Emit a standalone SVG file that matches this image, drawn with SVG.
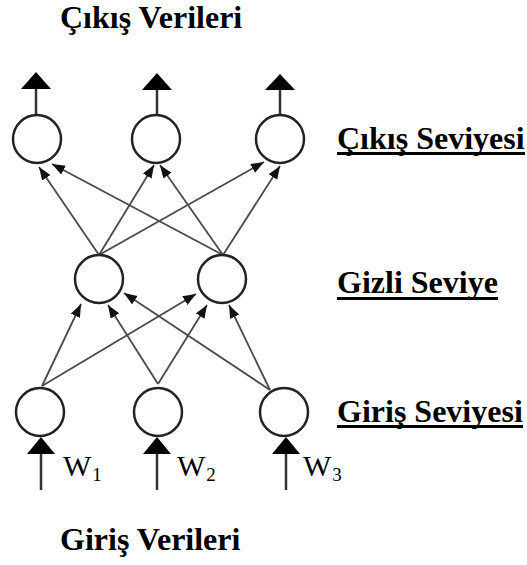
<svg xmlns="http://www.w3.org/2000/svg" width="527" height="565" viewBox="0 0 527 565">
  <defs>
    <marker id="head" markerUnits="userSpaceOnUse" markerWidth="14" markerHeight="11" refX="13" refY="5" orient="auto">
      <path d="M0,0 L13,5 L0,10 Z" fill="#111"/>
    </marker>
  </defs>
  <style>
    .node { fill: #fff; stroke: #222; stroke-width: 2.5; }
    .edge { stroke: #4a4a4a; stroke-width: 1.8; fill: none; marker-end: url(#head); }
    .io { stroke: #333; stroke-width: 2.5; fill: none; }
    .tri { fill: #000; }
    .ul { fill: #000; }
    .serif { font-family: "Liberation Serif", serif; }
  </style>
  <rect width="527" height="565" fill="#fff"/>

  <g class="serif" fill="#000">
    <!-- headings -->
    <g font-weight="bold" font-size="32">
      <text x="60" y="28">Çıkış Verileri</text>
      <text x="60" y="550">Giriş Verileri</text>

      <!-- layer labels -->
      <g id="label-output">
        <text x="337" y="149">Çıkış Seviyesi</text>
        <rect class="ul" x="337" y="152" width="188" height="3"/>
      </g>
      <g id="label-hidden">
        <text x="337" y="293">Gizli Seviye</text>
        <rect class="ul" x="337" y="297" width="161" height="3"/>
      </g>
      <g id="label-input">
        <text x="337" y="422">Giriş Seviyesi</text>
        <rect class="ul" x="337" y="425" width="186" height="3"/>
      </g>
    </g>

    <!-- input weights -->
    <g id="weights" font-size="30">
      <text x="63" y="476">W<tspan font-size="19" dx="1" dy="5">1</tspan></text>
      <text x="177" y="476">W<tspan font-size="19" dx="1" dy="5">2</tspan></text>
      <text x="303" y="476">W<tspan font-size="19" dx="1" dy="5">3</tspan></text>
    </g>
  </g>

  <!-- connectors -->
  <g id="connectors">
    <!-- hidden to output -->
    <line class="edge" x1="99" y1="255" x2="39" y2="167"/>
    <line class="edge" x1="223" y1="255" x2="52" y2="164"/>
    <line class="edge" x1="99" y1="255" x2="154" y2="165"/>
    <line class="edge" x1="223" y1="255" x2="160" y2="165"/>
    <line class="edge" x1="99" y1="255" x2="264" y2="162"/>
    <line class="edge" x1="223" y1="255" x2="280" y2="166"/>
    <!-- input to hidden -->
    <line class="edge" x1="42" y1="386" x2="81" y2="304"/>
    <line class="edge" x1="42" y1="386" x2="196" y2="294"/>
    <line class="edge" x1="158" y1="384" x2="108" y2="305"/>
    <line class="edge" x1="158" y1="384" x2="207" y2="305"/>
    <line class="edge" x1="270" y1="390" x2="124" y2="293"/>
    <line class="edge" x1="270" y1="390" x2="229" y2="305"/>
    <!-- outputs -->
    <line class="io" x1="36" y1="114" x2="36" y2="88"/>
    <polygon class="tri" points="36,72 51,89 21,89"/>
    <line class="io" x1="157" y1="114" x2="157" y2="88"/>
    <polygon class="tri" points="157,73 172,90 142,90"/>
    <line class="io" x1="280" y1="114" x2="280" y2="88"/>
    <polygon class="tri" points="280,74 295,90 265,90"/>
    <!-- inputs -->
    <line class="io" x1="41" y1="490" x2="41" y2="452"/>
    <polygon class="tri" points="41,437 55,454 27,454"/>
    <line class="io" x1="157" y1="490" x2="157" y2="452"/>
    <polygon class="tri" points="157,437 171,454 143,454"/>
    <line class="io" x1="286" y1="490" x2="286" y2="452"/>
    <polygon class="tri" points="286,437 300,454 272,454"/>
  </g>

  <!-- output layer -->
  <g id="out1"><circle class="node" cx="37" cy="139" r="24"/></g>
  <g id="out2"><circle class="node" cx="156" cy="139" r="24"/></g>
  <g id="out3"><circle class="node" cx="280" cy="139" r="24"/></g>

  <!-- hidden layer -->
  <g id="hid1"><circle class="node" cx="99" cy="279" r="24"/></g>
  <g id="hid2"><circle class="node" cx="222" cy="279" r="24"/></g>

  <!-- input layer -->
  <g id="in1"><circle class="node" cx="40" cy="412" r="24"/></g>
  <g id="in2"><circle class="node" cx="158" cy="412" r="24"/></g>
  <g id="in3"><circle class="node" cx="284" cy="412" r="24"/></g>
</svg>
